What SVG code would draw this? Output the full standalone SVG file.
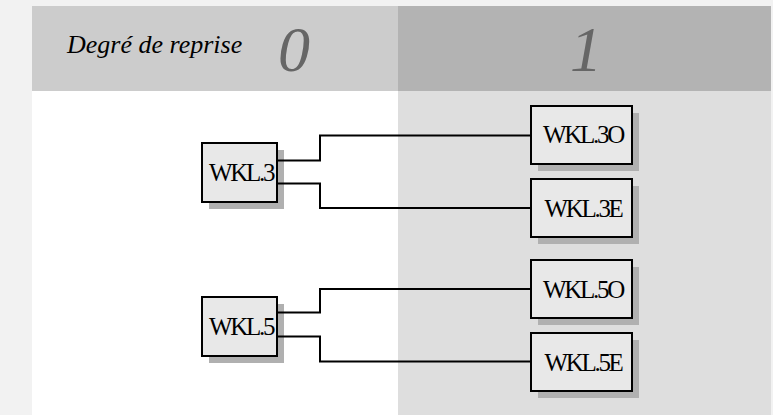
<svg xmlns="http://www.w3.org/2000/svg" width="773" height="415" viewBox="0 0 773 415">
<style>
.hdr{font-family:"Liberation Serif","Times New Roman",serif;font-style:italic;}
.num{font-family:"Liberation Serif","Times New Roman",serif;font-style:italic;font-size:64px;fill:#666666;text-anchor:middle;}
.box{fill:#e8e8e8;stroke:#000;stroke-width:2;}
.shd{fill:#b0b0b0;}
.lbl{font-family:"Liberation Serif","Times New Roman",serif;font-size:25px;letter-spacing:-2.3px;text-anchor:middle;fill:#000;}
.con{fill:none;stroke:#000;stroke-width:2;}
</style>
<rect x="0" y="0" width="773" height="415" fill="#f2f2f2"/>
<g id="columns">
<rect x="32" y="6" width="366" height="85" fill="#cccccc"/>
<rect x="398" y="6" width="373" height="85" fill="#b3b3b3"/>
<rect x="32" y="91" width="366" height="324" fill="#ffffff"/>
<rect x="398" y="91" width="373" height="324" fill="#dedede"/>
<text class="hdr" x="67" y="53" font-size="26" fill="#000">Degré de reprise</text>
<text class="num" x="294" y="71">0</text>
<text class="num" x="586" y="71">1</text>
</g>
<g id="WKL3">
<rect class="shd" x="209" y="150" width="75" height="59"/>
<rect class="box" x="202" y="143" width="75" height="59"/>
<text class="lbl" x="241" y="181">WKL.3</text>
</g>
<g id="WKL3O">
<rect class="shd" x="538" y="113" width="101" height="58"/>
<rect class="box" x="531" y="106" width="101" height="58"/>
<text class="lbl" x="583" y="143">WKL.3O</text>
</g>
<g id="WKL3E">
<rect class="shd" x="538" y="186" width="101" height="58"/>
<rect class="box" x="531" y="179" width="101" height="58"/>
<text class="lbl" x="583" y="216.5">WKL.3E</text>
</g>
<g id="WKL5">
<rect class="shd" x="209" y="304" width="75" height="59"/>
<rect class="box" x="202" y="297" width="75" height="59"/>
<text class="lbl" x="241" y="335">WKL.5</text>
</g>
<g id="WKL5O">
<rect class="shd" x="538" y="267" width="101" height="58"/>
<rect class="box" x="531" y="260" width="101" height="58"/>
<text class="lbl" x="583" y="297.5">WKL.5O</text>
</g>
<g id="WKL5E">
<rect class="shd" x="538" y="340" width="101" height="58"/>
<rect class="box" x="531" y="333" width="101" height="58"/>
<text class="lbl" x="583" y="370.5">WKL.5E</text>
</g>
<g id="connectors">
<path class="con" d="M278 160.5 H320 V135.5 H530"/>
<path class="con" d="M278 183.5 H320 V208 H530"/>
<path class="con" d="M278 312.5 H320 V289 H530"/>
<path class="con" d="M278 336.5 H320 V361.5 H530"/>
</g>
</svg>
